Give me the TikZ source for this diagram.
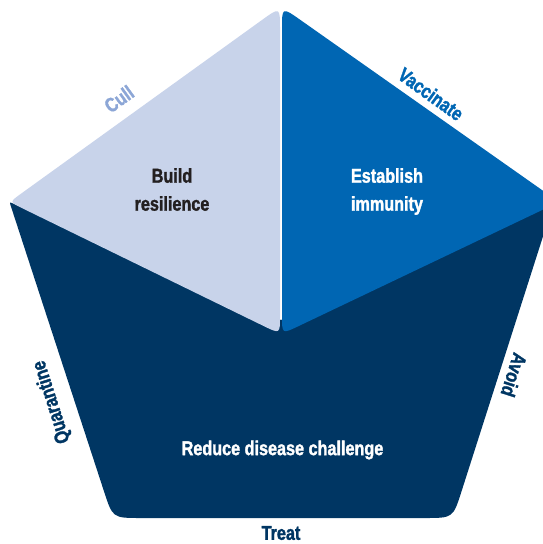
\documentclass[tikz,border=0pt]{standalone}
\usepackage{fontspec}
\setmainfont{Liberation Sans}[FakeStretch=0.81, BoldFeatures={FakeBold=1.5}]
\usetikzlibrary{calc}
\definecolor{lightpiece}{RGB}{200,211,234}
\definecolor{bluepiece}{RGB}{0,102,179}
\definecolor{darkpiece}{RGB}{0,54,99}
\definecolor{cullcol}{RGB}{140,166,214}
\definecolor{inkdark}{RGB}{35,31,32}
\begin{document}
\begin{tikzpicture}[x=1pt,y=-1pt,
  maintext/.style={font=\fontsize{20}{28}\selectfont\bfseries, align=center, inner sep=0pt},
  edgelabel/.style={font=\fontsize{20}{24}\selectfont\bfseries, inner sep=0pt}]
\useasboundingbox (0,0) rectangle (543,544);
\clip (0,0) rectangle (543,544);
\coordinate (UL) at (9.5,202);
\coordinate (URd) at (554,202);
\coordinate (URb) at (559,202);
\coordinate (LL) at (112.7,518);
\coordinate (LR) at (453,518);
\coordinate (Ctop) at (281,320);
\coordinate (LA) at (280,7);
\coordinate (LC) at (280,334);
\coordinate (BA) at (282,7);
\coordinate (BC) at (282,334);
% dark region
\fill[darkpiece] ($(UL)!4pt!(Ctop)$) .. controls (UL) .. ($(UL)!4pt!(LL)$)
  -- ($(LL)!28pt!(UL)$) .. controls (LL) .. ($(LL)!28pt!(LR)$)
  -- ($(LR)!28pt!(LL)$) .. controls (LR) .. ($(LR)!28pt!(URd)$) -- (URd) -- (Ctop) -- cycle;
% light region
\fill[lightpiece] ($(LA)!22pt!(LC)$) .. controls (LA) .. ($(LA)!22pt!(UL)$)
  -- ($(UL)!14pt!(LA)$) .. controls (UL) .. ($(UL)!14pt!(LC)$)
  -- ($(LC)!18pt!(UL)$) .. controls (LC) .. ($(LC)!18pt!(LA)$) -- cycle;
% blue region
\fill[bluepiece] ($(BA)!22pt!(BC)$) .. controls (BA) .. ($(BA)!22pt!(URb)$)
  -- ($(URb)!14pt!(BA)$) .. controls (URb) .. ($(URb)!14pt!(BC)$)
  -- ($(BC)!18pt!(URb)$) .. controls (BC) .. ($(BC)!18pt!(BA)$) -- cycle;
% texts
\node[maintext, text=inkdark] (build) at (172,189.5) {Build\\resilience};
\node[maintext, text=white] (establish) at (387,191.5) {Establish\\immunity};
\node[maintext, text=white] (reduce) at (282.5,450) {Reduce disease challenge};
\node[edgelabel, text=cullcol, rotate=35.8] (cull) at (119,99) {Cull};
\node[edgelabel, text=bluepiece, rotate=-35.8] (vacc) at (431,94) {Vaccinate};
\node[edgelabel, text=darkpiece, rotate=-107.7] (avoid) at (514,375) {Avoid};
\node[edgelabel, text=darkpiece, rotate=107.7] (quar) at (52,402) {Quarantine};
\node[edgelabel, text=darkpiece] (treat) at (281,533) {Treat};
\end{tikzpicture}
\end{document}
